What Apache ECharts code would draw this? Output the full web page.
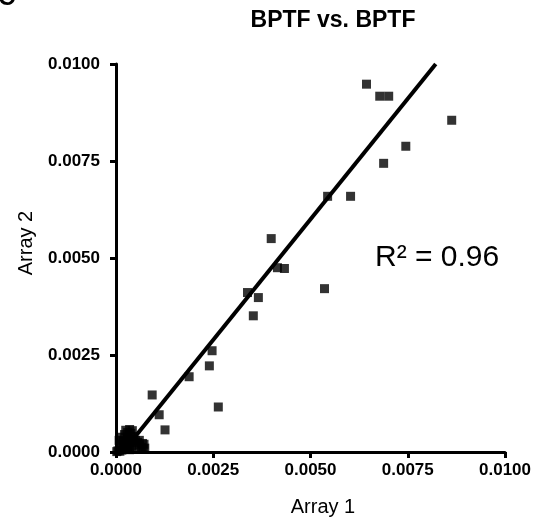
<!DOCTYPE html>
<html>
<head>
<meta charset="utf-8">
<script src="https://cdn.jsdelivr.net/npm/echarts@6/dist/echarts.min.js"></script>
<style>
html,body{margin:0;padding:0;background:#fff;}
#chart{width:543px;height:524px;}
</style>
</head>
<body>
<div id="chart"></div>
<script>
// Array 1 (x) and Array 2 (y) values
const array1 = [0.00644,0.00678,0.00701,0.00863,0.00745,0.00688,0.00544,0.00603,0.00399,0.00415,0.00433,0.00536,0.00338,0.00366,0.00353,0.00247,0.00240,0.00188,0.00093,0.00111,0.00263,0.00126,
  0.00002,0.00005,0.00010,0.00015,0.00020,0.00025,0.00030,0.00035,0.00040,0.00050,0.00060,0.00065,0.00070,0.00012,0.00020,0.00030,0.00022,0.00030,0.00038,0.00040,0.00045,0.00050,0.00055,0.00010,0.00008,0.00015,0.00028,0.00033,0.00060,0.00068,
  0.00042,0.00074,0.00072,0.00025,0.00035];
const array2 = [0.00948,0.00917,0.00917,0.00855,0.00788,0.00744,0.00659,0.00659,0.00550,0.00475,0.00473,0.00421,0.00411,0.00398,0.00351,0.00261,0.00222,0.00194,0.00147,0.00096,0.00116,0.00057,
  0.00001,0.00003,0.00002,0.00005,0.00010,0.00008,0.00012,0.00006,0.00015,0.00010,0.00018,0.00012,0.00008,0.00020,0.00028,0.00035,0.00045,0.00050,0.00048,0.00032,0.00040,0.00030,0.00025,0.00015,0.00030,0.00038,0.00022,0.00028,0.00030,0.00022,
  0.00055,0.00010,0.00020,0.00056,0.00058];
// regression line end points
const fitX = [0.0002, 0.00822];
const fitY = [0.00003, 0.0100];
const axisTicks = [0, 0.0025, 0.005, 0.0075, 0.01];
const titleText = 'BPTF vs. BPTF';
const xName = 'Array 1';
const yName = 'Array 2';
const r2Text = 'R\u00B2 = 0.96';

const FONT = '"Liberation Sans", Arial, Helvetica, sans-serif';
const chart = echarts.init(document.getElementById('chart'), null, {renderer: 'canvas'});
const points = array1.map((x, i) => [x, array2[i]]);
const fit = fitX.map((x, i) => [x, fitY[i]]);

const axisCommon = {
  type: 'value',
  min: axisTicks[0],
  max: axisTicks[axisTicks.length - 1],
  interval: axisTicks[1] - axisTicks[0],
  splitLine: {show: false},
  axisLine: {show: true, onZero: false, lineStyle: {color: '#000', width: 3}},
  axisTick: {show: true, inside: false, length: 6, lineStyle: {color: '#000', width: 3}},
  axisLabel: {
    color: '#000', fontFamily: FONT, fontWeight: 'bold', fontSize: 17,
    formatter: v => v.toFixed(4)
  }
};

chart.setOption({
  animation: false,
  backgroundColor: '#fff',
  grid: {left: 116, right: 38, top: 64, bottom: 72, containLabel: false},
  xAxis: Object.assign({}, axisCommon, {
    axisLabel: Object.assign({}, axisCommon.axisLabel, {margin: 10})
  }),
  yAxis: Object.assign({}, axisCommon, {
    axisLabel: Object.assign({}, axisCommon.axisLabel, {margin: 16})
  }),
  graphic: [
    {type: 'text', x: 333, y: 21, style: {text: titleText, font: 'bold 23px ' + FONT, fill: '#000', textAlign: 'center', textVerticalAlign: 'middle'}},
    {type: 'text', x: 323, y: 507, style: {text: xName, font: '20px ' + FONT, fill: '#000', textAlign: 'center', textVerticalAlign: 'middle'}},
    {type: 'text', x: 26, y: 243, rotation: Math.PI / 2, style: {text: yName, font: '20px ' + FONT, fill: '#000', textAlign: 'center', textVerticalAlign: 'middle'}},
    {type: 'text', x: 375, y: 258, style: {text: r2Text, font: '30px ' + FONT, fill: '#000', textAlign: 'left', textVerticalAlign: 'middle'}},
    {type: 'text', x: -2, y: -14, style: {text: 'C', font: 'bold 24px ' + FONT, fill: '#000', textAlign: 'left', textVerticalAlign: 'top'}}
  ],
  series: [
    {
      type: 'scatter', data: points, symbol: 'rect', symbolSize: 9, clip: false,
      itemStyle: {color: '#000'}, z: 3
    },
    {
      type: 'line', data: fit, symbol: 'none', clip: false,
      lineStyle: {color: '#000', width: 4}, z: 4
    }
  ]
});
</script>
</body>
</html>
